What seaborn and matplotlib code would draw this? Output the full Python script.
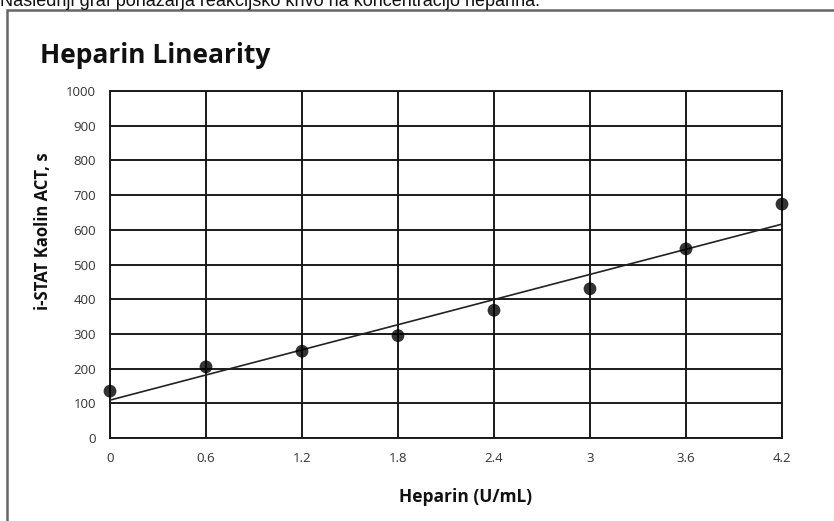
import matplotlib
matplotlib.use("Agg")
import matplotlib.pyplot as plt
import seaborn as sns
import pandas as pd
from matplotlib.patches import Rectangle

heparin = [0.0, 0.6, 1.2, 1.8, 2.4, 3.0, 3.6, 4.2]
act_s = [135, 205, 250, 295, 368, 430, 545, 674]
x_ticks = [0, 0.6, 1.2, 1.8, 2.4, 3, 3.6, 4.2]
x_tick_labels = ["0", "0.6", "1.2", "1.8", "2.4", "3", "3.6", "4.2"]
y_ticks = list(range(0, 1001, 100))

df = pd.DataFrame({"Heparin": heparin, "ACT": act_s})

sns.set_theme(style="white")
plt.rcParams["font.family"] = ["Open Sans", "DejaVu Sans"]

W, H = 834, 521
fig = plt.figure(figsize=(W / 100, H / 100), dpi=100)
ax = fig.add_axes([110 / W, 1 - 438 / H, (782 - 110) / W, (438 - 91) / H])

sns.regplot(data=df, x="Heparin", y="ACT", ci=None, ax=ax,
            scatter_kws=dict(s=85, color="black", edgecolor="none", clip_on=False, zorder=5),
            line_kws=dict(color="#222222", lw=1.2, zorder=4))

ax.set_xlim(0, 4.2)
ax.set_ylim(0, 1000)
ax.set_xticks(x_ticks)
ax.set_xticklabels(x_tick_labels)
ax.set_yticks(y_ticks)
ax.grid(True, color="#1a1a1a", lw=1.4)
ax.tick_params(axis="both", length=0, labelsize=9.5, colors="#333333")
ax.tick_params(axis="x", pad=10)
ax.tick_params(axis="y", pad=10)
for s in ax.spines.values():
    s.set_color("#1a1a1a")
    s.set_linewidth(1.4)
ax.set_xlabel("Heparin (U/mL)", fontsize=12.5, fontweight="bold", color="#111111", va="center")
ax.xaxis.set_label_coords((466 - 110) / 672, (438 - 497) / 347)
ax.set_ylabel("i-STAT Kaolin ACT, s", fontsize=12, fontweight="bold", color="#111111", va="center")
ax.yaxis.set_label_coords((43 - 110) / 672, (438 - 231) / 347)

fig.text(40 / W, 1 - 63 / H, "Heparin Linearity", fontsize=19, fontweight="bold",
         color="#111111", ha="left", va="baseline")

# outer frame (partly outside figure)
fig.patches.append(Rectangle((7 / W, -0.2), 1.2, 1 - 10 / H + 0.2, transform=fig.transFigure,
                             fill=False, edgecolor="#666666", lw=1.8, clip_on=False))

fig.text(0 / W, 1 - 6 / H, "Naslednji graf ponazarja reakcijsko krivo na koncentracijo heparina.",
         fontsize=13, family=["Liberation Sans", "DejaVu Sans"], color="#111111",
         ha="left", va="baseline")

fig.savefig("out.png", dpi=100)
